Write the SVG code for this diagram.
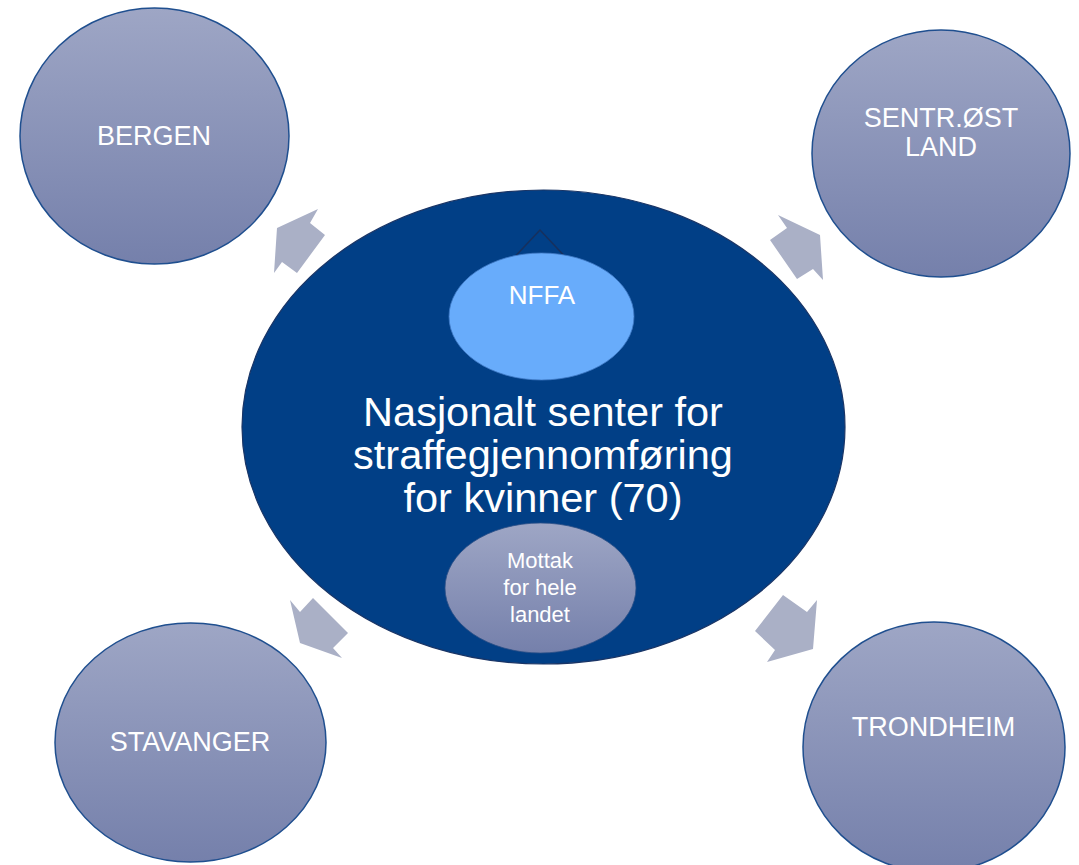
<svg xmlns="http://www.w3.org/2000/svg" width="1079" height="865" viewBox="0 0 1079 865">
<defs>
<linearGradient id="g" x1="0" y1="0" x2="0" y2="1">
<stop offset="0" stop-color="#9ea6c5"/>
<stop offset="1" stop-color="#7580ab"/>
</linearGradient>
<style>
.c{fill:url(#g);stroke:#1f4f8f;stroke-width:1.5}
.t{font-family:"Liberation Sans",Arial,sans-serif;fill:#ffffff;text-anchor:middle}
.a{fill:#aab0c6;stroke:none}
</style>
</defs>
<rect width="1079" height="865" fill="#ffffff"/>
<g id="connectors">
<polygon class="a" points="277,228 318,209 310,223 325,235 297,273 282,262 274,273"/>
<polygon class="a" points="820,235 778,215 787,228 770,240 797,279 813,269 823,280"/>
<polygon class="a" points="300,643 290,600 300,612 313,598 348,633 333,648 342,658"/>
<polygon class="a" points="813,649 817,600 807,612 783,595 755,631 775,650 767,662"/>
</g>
<g id="center">
<ellipse cx="543.5" cy="427" rx="301.5" ry="237" fill="#013f86" stroke="#1a3566" stroke-width="1.2"/>
<polygon points="540,230 508,264 572,264" fill="#013f86" stroke="#17305d" stroke-width="1.5"/>
<text class="t" font-size="41.5" x="543" y="426">Nasjonalt senter for</text>
<text class="t" font-size="41.5" x="543" y="469">straffegjennomføring</text>
<text class="t" font-size="41.5" x="543" y="512">for kvinner (70)</text>
</g>
<g id="nffa">
<ellipse cx="541.5" cy="316.5" rx="92.5" ry="63.5" fill="#68acfb" stroke="#3f78c4" stroke-width="0.8"/>
<text class="t" font-size="26" x="542" y="304">NFFA</text>
</g>
<g id="mottak">
<ellipse cx="540.5" cy="588" rx="95.5" ry="65" fill="url(#g)" stroke="#2c4f86" stroke-width="0.8"/>
<text class="t" font-size="22" x="540" y="568" fill="#f2f2f6">Mottak</text>
<text class="t" font-size="22" x="540" y="595" fill="#f2f2f6">for hele</text>
<text class="t" font-size="22" x="540" y="622" fill="#f2f2f6">landet</text>
</g>
<g id="bergen">
<ellipse class="c" cx="154.5" cy="136" rx="134.5" ry="128"/>
<text class="t" font-size="27" x="154" y="145">BERGEN</text>
</g>
<g id="sentr">
<ellipse class="c" cx="941" cy="153.5" rx="129" ry="123.5"/>
<text class="t" font-size="27" x="941" y="127">SENTR.ØST</text>
<text class="t" font-size="27" x="941" y="156">LAND</text>
</g>
<g id="stavanger">
<ellipse class="c" cx="190.5" cy="742.5" rx="135.5" ry="119.5"/>
<text class="t" font-size="27" x="190" y="751">STAVANGER</text>
</g>
<g id="trondheim">
<ellipse class="c" cx="934" cy="747" rx="131" ry="125"/>
<text class="t" font-size="27" x="933.5" y="736">TRONDHEIM</text>
</g>
</svg>
